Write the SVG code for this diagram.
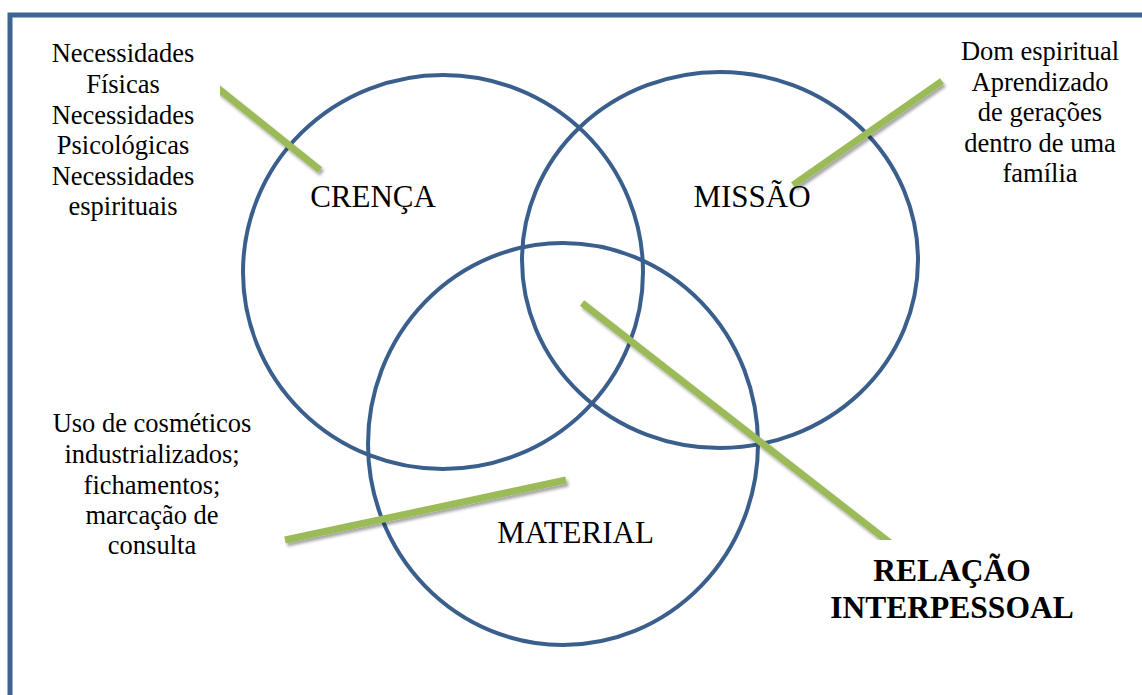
<svg xmlns="http://www.w3.org/2000/svg" width="1142" height="695" viewBox="0 0 1142 695">
<style>
.circ{fill:none;stroke:#3A5F8C;stroke-width:4}
.lead{stroke:#9BBB59;stroke-width:7;stroke-linecap:butt;fill:none}
.small{font-family:"Liberation Serif","Times New Roman",serif;font-size:26.5px;fill:#000;text-anchor:middle}
.label{font-family:"Liberation Serif","Times New Roman",serif;font-size:31px;fill:#000;text-anchor:middle}
.bold{font-family:"Liberation Serif","Times New Roman",serif;font-size:31.5px;font-weight:bold;fill:#000;text-anchor:middle}
.box{fill:#fff;stroke:none}
</style>
<defs>
<filter id="sh" x="-20%" y="-20%" width="140%" height="140%">
<feDropShadow dx="2" dy="3" stdDeviation="1.5" flood-color="#000" flood-opacity="0.35"/>
</filter>
</defs>
<rect x="0" y="0" width="1142" height="695" fill="#fff"/>
<rect id="frame" x="10" y="15" width="1200" height="800" fill="none" stroke="#3F6494" stroke-width="5"/>

<g id="circles">
<ellipse id="crenca-circle" class="circ" cx="443" cy="272" rx="200" ry="197"/>
<ellipse id="missao-circle" class="circ" cx="720" cy="260" rx="198" ry="188"/>
<ellipse id="material-circle" class="circ" cx="563" cy="444" rx="195" ry="201"/>
</g>

<g id="connectors" filter="url(#sh)">
<line class="lead" x1="205" y1="78" x2="320" y2="170"/>
<line class="lead" x1="793" y1="185" x2="942" y2="81"/>
<line class="lead" x1="582" y1="303" x2="912" y2="560"/>
<line class="lead" x1="285" y1="540" x2="566" y2="480"/>
</g>

<g id="node-necessidades">
<rect class="box" x="20" y="30" width="200" height="195"/>
<text class="small" x="123" y="62">Necessidades</text>
<text class="small" x="123" y="93">Físicas</text>
<text class="small" x="123" y="123.5">Necessidades</text>
<text class="small" x="123" y="154">Psicológicas</text>
<text class="small" x="123" y="185">Necessidades</text>
<text class="small" x="123" y="215">espirituais</text>
</g>

<g id="node-dom">
<text class="small" x="1040" y="60">Dom espiritual</text>
<text class="small" x="1040" y="91">Aprendizado</text>
<text class="small" x="1040" y="121">de gerações</text>
<text class="small" x="1040" y="152">dentro de uma</text>
<text class="small" x="1040" y="182">família</text>
</g>

<g id="node-uso">
<text class="small" x="152" y="432">Uso de cosméticos</text>
<text class="small" x="152" y="463">industrializados;</text>
<text class="small" x="152" y="494">fichamentos;</text>
<text class="small" x="152" y="524">marcação de</text>
<text class="small" x="152" y="554">consulta</text>
</g>

<g id="node-crenca">
<text class="label" x="373" y="207">CRENÇA</text>
</g>
<g id="node-missao">
<text class="label" x="752" y="207">MISSÃO</text>
</g>
<g id="node-material">
<text class="label" x="575.5" y="543">MATERIAL</text>
</g>

<g id="node-relacao">
<rect class="box" x="745" y="540" width="400" height="100"/>
<text class="bold" x="952" y="581">RELAÇÃO</text>
<text class="bold" x="952" y="618">INTERPESSOAL</text>
</g>
</svg>
